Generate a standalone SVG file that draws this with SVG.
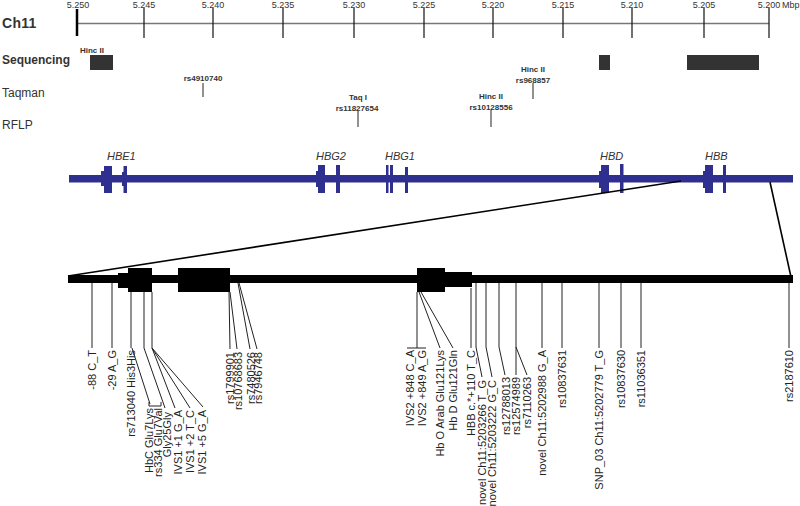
<svg xmlns="http://www.w3.org/2000/svg" width="800" height="506" viewBox="0 0 800 506">
<style>
text{font-family:"Liberation Sans",Arial,sans-serif;fill:#222}
.tk{font-size:9px;text-anchor:middle;fill:#333}
.row{font-size:12px;fill:#333}
.sm{font-size:8px;font-weight:bold;text-anchor:middle;fill:#333}
.gene{font-size:11px;font-style:italic;fill:#333}
.lab{font-size:11px;text-anchor:end}
.ld{stroke:#222;stroke-width:1;fill:none}
.tick{stroke:#111;stroke-width:1.2}
.ex{fill:#2e2f8f}
.zx{fill:#000}
.seq{fill:#333}
</style>
<rect width="800" height="506" fill="#fff"/>
<g id="axis">
<line x1="77" y1="23.5" x2="769" y2="23.5" stroke="#777" stroke-width="1.5"/>
<line x1="77" y1="9" x2="77" y2="36" stroke="#000" stroke-width="2.5"/>
<line class="tick" x1="144" y1="8" x2="144" y2="38"/>
<line class="tick" x1="213" y1="8" x2="213" y2="38"/>
<line class="tick" x1="283" y1="8" x2="283" y2="38"/>
<line class="tick" x1="354" y1="8" x2="354" y2="38"/>
<line class="tick" x1="424" y1="8" x2="424" y2="38"/>
<line class="tick" x1="493" y1="8" x2="493" y2="38"/>
<line class="tick" x1="563" y1="8" x2="563" y2="38"/>
<line class="tick" x1="632" y1="8" x2="632" y2="38"/>
<line class="tick" x1="704" y1="8" x2="704" y2="38"/>
<line class="tick" x1="769" y1="8" x2="769" y2="38"/>
<text class="tk" x="78" y="8">5.250</text>
<text class="tk" x="144" y="8">5.245</text>
<text class="tk" x="213" y="8">5.240</text>
<text class="tk" x="283" y="8">5.235</text>
<text class="tk" x="354" y="8">5.230</text>
<text class="tk" x="424" y="8">5.225</text>
<text class="tk" x="493" y="8">5.220</text>
<text class="tk" x="563" y="8">5.215</text>
<text class="tk" x="632" y="8">5.210</text>
<text class="tk" x="704" y="8">5.205</text>
<text class="tk" x="769" y="8">5.200</text>
<text x="782" y="8" style="font-size:9px;fill:#333">Mbp</text>
</g>
<g id="row-labels">
<text class="row" x="2" y="28" style="font-size:14px;font-weight:bold;letter-spacing:0.3px">Ch11</text>
<text class="row" x="2" y="64" style="font-weight:bold">Sequencing</text>
<text class="row" x="2" y="97">Taqman</text>
<text class="row" x="2" y="129">RFLP</text>
</g>
<g id="sequencing">
<text class="sm" x="92" y="53">Hinc II</text>
<rect class="seq" x="90" y="55" width="23" height="15"/>
<rect class="seq" x="599" y="55" width="11" height="15"/>
<rect class="seq" x="687" y="55" width="72" height="15"/>
</g>
<g id="taqman">
<text class="sm" x="203" y="81">rs4910740</text>
<line class="ld" x1="203" y1="83" x2="203" y2="97"/>
</g>
<g id="rflp">
<text class="sm" x="358" y="100">Taq I</text>
<text class="sm" x="357" y="111">rs11827654</text>
<line class="ld" x1="358" y1="111" x2="358" y2="127"/>
<text class="sm" x="491" y="99">Hinc II</text>
<text class="sm" x="491" y="110">rs10128556</text>
<line class="ld" x1="491" y1="110" x2="491" y2="127"/>
<text class="sm" x="533" y="72">Hinc II</text>
<text class="sm" x="533" y="83">rs968857</text>
<line class="ld" x1="533" y1="83" x2="533" y2="99"/>
</g>
<g id="gene-track">
<rect class="ex" x="69" y="175" width="724" height="7.5"/>
<rect class="ex" x="101" y="171" width="3" height="15"/>
<rect class="ex" x="104" y="166" width="8" height="27"/>
<rect class="ex" x="122" y="172" width="2" height="14"/>
<rect class="ex" x="123.5" y="166" width="3.5" height="27"/>
<rect class="ex" x="316" y="171" width="3" height="16"/>
<rect class="ex" x="318" y="165" width="7" height="28"/>
<rect class="ex" x="336" y="165" width="4" height="28"/>
<rect class="ex" x="386" y="165" width="2.5" height="28"/>
<rect class="ex" x="390" y="165" width="3" height="28"/>
<rect class="ex" x="405" y="167" width="3" height="26"/>
<rect class="ex" x="599" y="171" width="3" height="17"/>
<rect class="ex" x="601" y="165" width="8" height="28"/>
<rect class="ex" x="620" y="164" width="3.5" height="29"/>
<rect class="ex" x="703" y="171" width="3" height="17"/>
<rect class="ex" x="705" y="165" width="8" height="28"/>
<rect class="ex" x="723" y="165" width="3" height="28"/>
<text class="gene" x="107" y="160">HBE1</text>
<text class="gene" x="316" y="160">HBG2</text>
<text class="gene" x="385" y="160">HBG1</text>
<text class="gene" x="600" y="160">HBD</text>
<text class="gene" x="705" y="160">HBB</text>
</g>
<g id="connectors">
<line x1="68" y1="276" x2="681" y2="181" stroke="#000" stroke-width="1.6"/>
<line x1="770" y1="182" x2="791" y2="277" stroke="#000" stroke-width="1.6"/>
</g>
<g id="hbb-zoom">
<rect class="zx" x="68" y="275" width="725" height="8"/>
<rect class="zx" x="118" y="273" width="12" height="15"/>
<rect class="zx" x="128" y="268" width="24" height="24"/>
<rect class="zx" x="178" y="268" width="52" height="24"/>
<rect class="zx" x="417" y="268" width="28" height="24"/>
<rect class="zx" x="445" y="272" width="27" height="15"/>
</g>
<g id="leaders">
<path class="ld" d="M92,283V348 M112,283V348 M131,292V348 M132,348L150,404 M149,402V406H161V402 M144,292V348L165,408 M152,292V348L175,408 M152,348L190,408 M152,348L203,407"/>
<path class="ld" d="M229,292L230,349 M230,292L237,349 M238,283L250,349 M239,283L257,349"/>
<path class="ld" d="M417,292V348 M407,348H426 M419,292L440,348 M421,292L453,348 M471,288V348"/>
<path class="ld" d="M476,283V347L482,377 M486,283V347L492,377 M499,283V347L505,375 M516,283V375 M516,347L527,375"/>
<path class="ld" d="M542,283V348 M562,283V348 M599,283V348 M621,283V348 M641,283V348 M789,283V348"/>
</g>
<g id="variant-labels">
<text class="lab" transform="translate(96,350) rotate(-90)">-88 C_T</text>
<text class="lab" transform="translate(116,350) rotate(-90)">-29 A_G</text>
<text class="lab" transform="translate(135,350) rotate(-90)">rs713040 His3His</text>
<text class="lab" transform="translate(153,408) rotate(-90)">HbC Glu7Lys</text>
<text class="lab" transform="translate(162,408) rotate(-90)">rs334 Glu7Val</text>
<text class="lab" transform="translate(171,412) rotate(-90)">Gly25Gly</text>
<text class="lab" transform="translate(182,410) rotate(-90)">IVS1 +1 G_A</text>
<text class="lab" transform="translate(194,410) rotate(-90)">IVS1 +2 T_C</text>
<text class="lab" transform="translate(206,410) rotate(-90)">IVS1 +5 G_A</text>
<text class="lab" transform="translate(234,352) rotate(-90)">rs1799901</text>
<text class="lab" transform="translate(242,352) rotate(-90)">rs10768683</text>
<text class="lab" transform="translate(255,352) rotate(-90)">rs7480526</text>
<text class="lab" transform="translate(262,352) rotate(-90)">rs7946748</text>
<text class="lab" transform="translate(414,350) rotate(-90)">IVS2 +848 C_A</text>
<text class="lab" transform="translate(426,350) rotate(-90)">IVS2 +849 A_G</text>
<text class="lab" transform="translate(444,350) rotate(-90)">Hb O Arab Glu121Lys</text>
<text class="lab" transform="translate(457,350) rotate(-90)">Hb D Glu121Gln</text>
<text class="lab" transform="translate(475,350) rotate(-90)">HBB c.*+110 T_C</text>
<text class="lab" transform="translate(486,380) rotate(-90)">novel Ch11:5203266 T_G</text>
<text class="lab" transform="translate(496,380) rotate(-90)">novel Ch11:5203222 G_C</text>
<text class="lab" transform="translate(510,377) rotate(-90)">rs12788013</text>
<text class="lab" transform="translate(520,377) rotate(-90)">rs12574989</text>
<text class="lab" transform="translate(531,377) rotate(-90)">rs7110263</text>
<text class="lab" transform="translate(546,350) rotate(-90)">novel Ch11:5202988 G_A</text>
<text class="lab" transform="translate(566,350) rotate(-90)">rs10837631</text>
<text class="lab" transform="translate(603,350) rotate(-90)">SNP_03 Ch11:5202779 T_G</text>
<text class="lab" transform="translate(625,350) rotate(-90)">rs10837630</text>
<text class="lab" transform="translate(645,350) rotate(-90)">rs11036351</text>
<text class="lab" transform="translate(793,350) rotate(-90)">rs2187610</text>
</g>
</svg>
